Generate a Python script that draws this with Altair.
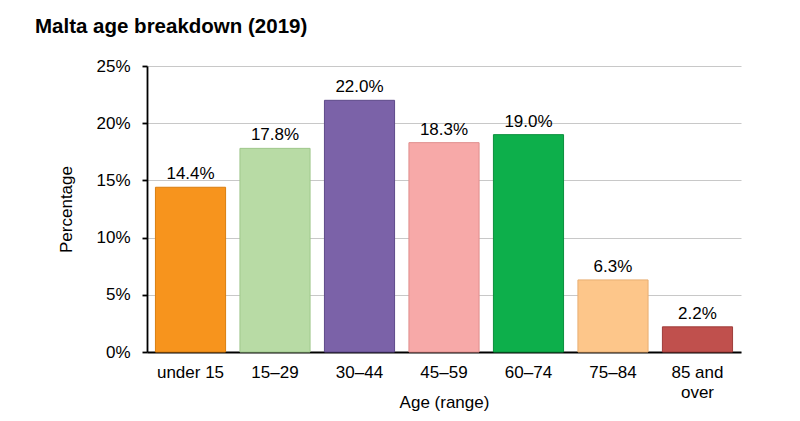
import altair as alt
import pandas as pd

categories = ["under 15", "15–29", "30–44", "45–59", "60–74", "75–84", "85 and over"]
values = [14.4, 17.8, 22.0, 18.3, 19.0, 6.3, 2.2]
colors = ["#F7941D", "#B8DBA5", "#7B62A8", "#F7A9A8", "#0DAF4B", "#FDC68A", "#C0504D"]
strokes = ["#D97F10", "#9FC78C", "#5E4A8A", "#E08E8D", "#0A8F3D", "#E8AE72", "#9E3C3A"]

df = pd.DataFrame({"cat": categories, "val": values, "label": [f"{v:.1f}%" for v in values]})

FONT = "Liberation Sans"
FS = 17

yscale = alt.Scale(domain=[0, 25], nice=False, zero=True)

x = alt.X("cat:N", sort=categories, title="Age (range)",
          scale=alt.Scale(paddingInner=0.17, paddingOuter=0.1),
          axis=alt.Axis(labelAngle=0, ticks=False, labelPadding=12, labelFontSize=FS,
                        labelColor="#000", titleFontSize=FS, titleFontWeight="normal",
                        titleColor="#000", titlePadding=-6, domainColor="#000", domainWidth=1.8,
                        labelFont=FONT, titleFont=FONT,
                        labelExpr="datum.value == '85 and over' ? ['85 and', 'over'] : datum.label",
                        labelLineHeight=20))

bars = alt.Chart(df).mark_bar(strokeWidth=1).encode(
    x=x,
    y=alt.Y("val:Q", title="Percentage", scale=yscale,
            axis=alt.Axis(values=[0, 5, 10, 15, 20, 25], labelExpr="datum.value + '%'",
                          tickSize=5, tickColor="#000", tickWidth=1.8, labelPadding=12,
                          labelFontSize=FS, labelColor="#000", titleFontSize=FS,
                          titleFontWeight="normal", titleColor="#000", titlePadding=20,
                          domainColor="#000", domainWidth=1.8, gridColor="#C8C8C8",
                          labelFont=FONT, titleFont=FONT)),
    color=alt.Color("cat:N", sort=categories, scale=alt.Scale(domain=categories, range=colors), legend=None),
    stroke=alt.Stroke("cat:N", sort=categories, scale=alt.Scale(domain=categories, range=strokes), legend=None),
)

text = alt.Chart(df).mark_text(dy=-13, fontSize=FS, font=FONT, color="#000").encode(
    x=alt.X("cat:N", sort=categories),
    y=alt.Y("val:Q", scale=yscale),
    text="label:N",
)

chart = (bars + text).properties(
    width=594, height=286,
    title=alt.TitleParams("Malta age breakdown (2019)", anchor="start", frame="group", dx=-112, offset=20,
                          fontSize=20.5, font=FONT, fontWeight="bold", color="#000"),
    autosize=alt.AutoSizeParams(type="none"),
    padding={"left": 139, "top": 58, "right": 51, "bottom": 61},
).configure_view(stroke=None).configure_axisX(grid=False)

chart.save("out.html", embed_options={"renderer": "svg", "actions": False})
